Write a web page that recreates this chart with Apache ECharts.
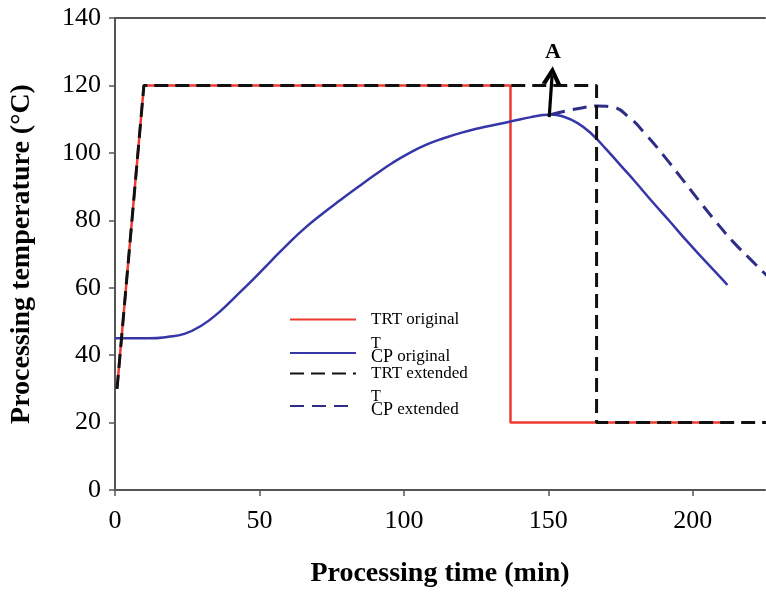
<!DOCTYPE html>
<html>
<head>
<meta charset="utf-8">
<script src="https://cdn.jsdelivr.net/npm/echarts@6/dist/echarts.min.js"></script>
<style>html,body{margin:0;padding:0;background:#fff}#c{width:766px;height:593px}</style>
</head>
<body>
<div id="c"></div>
<script>
// TRT original (red, solid)
var trtOriginal = [[0.7,30],[10,120],[136.9,120],[136.9,20],[211.7,20]];
// TRT extended (black, dashed)
var trtExtended = [[0.7,30],[10,120],[166.7,120],[166.7,20],[230,20]];
// T_CP original (blue, solid)
var tcpOriginal = [[0,45],[6,45],[12,45],[18,45.4],[24,46.3],[30,48.8],[36,52.7],[42,57.6],[48,62.6],[54,67.9],[60,73.1],[66,77.9],[72,82.1],[78,86.0],[84,89.8],[90,93.5],[96,97.0],[102,100.0],[108,102.5],[114,104.4],[120,106.0],[126,107.3],[132,108.4],[138,109.5],[144,110.6],[148,111.2],[151,111.4],[155,110.8],[160,108.9],[165,105.6],[170,101.1],[175,96.3],[180,91.5],[186,85.5],[192,79.7],[198,73.8],[204,68.2],[210,62.7],[212,60.8]];
// T_CP extended (navy, dashed)
var tcpExtended = [[151,111.4],[156,112.4],[162,113.4],[167,113.9],[172,113.6],[178,110.5],[184,105.2],[190,99.1],[196,92.6],[202,86.0],[208,79.6],[214,73.6],[220,68.4],[226,63.3],[232,58.4]];
// Arrow "A"
var arrowStart = [150.3,110.6];
var arrowEnd = [151.3,123.0];
var arrowLabel = 'A';
var xTicks = {min:0, max:225, interval:50};
var yTicks = {min:0, max:140, interval:20};
var seriesNames = ['TRT original','T_CP original','TRT extended','T_CP extended'];

var serif = 'Liberation Serif';
function legendFmt(name){
  if (name.indexOf('T_CP') === 0) {
    return '{t|T}\n{s|CP}{w| ' + name.split(' ')[1] + '}';
  }
  return '{w|' + name + '}';
}
var legendRich = {
  t:{fontFamily:serif,fontSize:16,lineHeight:8,color:'#000'},
  s:{fontFamily:serif,fontSize:18,lineHeight:18,color:'#000'},
  w:{fontFamily:serif,fontSize:17,lineHeight:18,color:'#000'}
};
function mkLegend(name, cy){
  return {
    data:[name], left:289, top:cy-13, padding:0, itemWidth:66, itemHeight:26, itemGap:0,
    orient:'vertical', formatter:legendFmt, selectedMode:false,
    itemStyle:{opacity:0},
    textStyle:{rich:legendRich, padding:[0,0,0,10]}
  };
}
var chart = echarts.init(document.getElementById('c'));
chart.setOption({
  animation:false,
  backgroundColor:'#fff',
  grid:{left:115, right:1, top:18, bottom:95, containLabel:false},
  legend:[mkLegend(seriesNames[0],322), mkLegend(seriesNames[1],349), mkLegend(seriesNames[2],376), mkLegend(seriesNames[3],402)],
  xAxis:[{
    type:'value', min:xTicks.min, max:xTicks.max, interval:xTicks.interval,
    name:'Processing time (min)', nameLocation:'middle', nameGap:70,
    nameTextStyle:{fontFamily:serif,fontSize:28,fontWeight:'bold',color:'#000'},
    axisLine:{lineStyle:{color:'#555',width:2}},
    axisTick:{length:6,lineStyle:{color:'#555',width:1.5}},
    axisLabel:{fontFamily:serif,fontSize:26,color:'#000',margin:18,showMaxLabel:false},
    splitLine:{show:false}
  },{
    type:'value', position:'top', min:xTicks.min, max:xTicks.max,
    axisLine:{show:true,lineStyle:{color:'#555',width:2}},
    axisTick:{show:false}, axisLabel:{show:false}, splitLine:{show:false}
  }],
  yAxis:{
    type:'value', min:yTicks.min, max:yTicks.max, interval:yTicks.interval,
    name:'Processing temperature (\u00B0C)', nameLocation:'middle', nameGap:79,
    nameTextStyle:{fontFamily:serif,fontSize:28,fontWeight:'bold',color:'#000'},
    axisLine:{show:true,lineStyle:{color:'#555',width:2}},
    axisTick:{show:true,length:6,lineStyle:{color:'#555',width:1.5}},
    axisLabel:{fontFamily:serif,fontSize:26,color:'#000',margin:14},
    splitLine:{show:false}
  },
  series:[
    {name:seriesNames[0], type:'line', data:trtOriginal, showSymbol:false, symbol:'none', z:2,
     lineStyle:{color:'#ee3a30',width:2.5}, itemStyle:{color:'#ee3a30'}},
    {name:seriesNames[1], type:'line', data:tcpOriginal, showSymbol:false, symbol:'none', smooth:0.5, z:3,
     lineStyle:{color:'#3636a8',width:2.5}, itemStyle:{color:'#3636a8'}},
    {name:seriesNames[2], type:'line', data:trtExtended, showSymbol:false, symbol:'none', z:4,
     lineStyle:{color:'#111',width:3,type:[14,7]}, itemStyle:{color:'#111'},
     markLine:{silent:true, symbol:['none','path://M0,10 L5,0 L10,10 L7.6,10 L5,4.6 L2.4,10 Z'], symbolSize:[20,18],
       lineStyle:{color:'#000',width:3.2,type:'solid'}, itemStyle:{color:'#000'},
       label:{show:true, position:'end', distance:12, formatter:arrowLabel, fontFamily:serif, fontSize:22, fontWeight:'bold', color:'#000'},
       data:[[{coord:arrowStart},{coord:arrowEnd}]]}},
    {name:seriesNames[3], type:'line', data:tcpExtended, showSymbol:false, symbol:'none', smooth:0.5, z:3,
     lineStyle:{color:'#2e2e86',width:3,type:[14,8]}, itemStyle:{color:'#2e2e86'}}
  ]
});
</script>
</body>
</html>
